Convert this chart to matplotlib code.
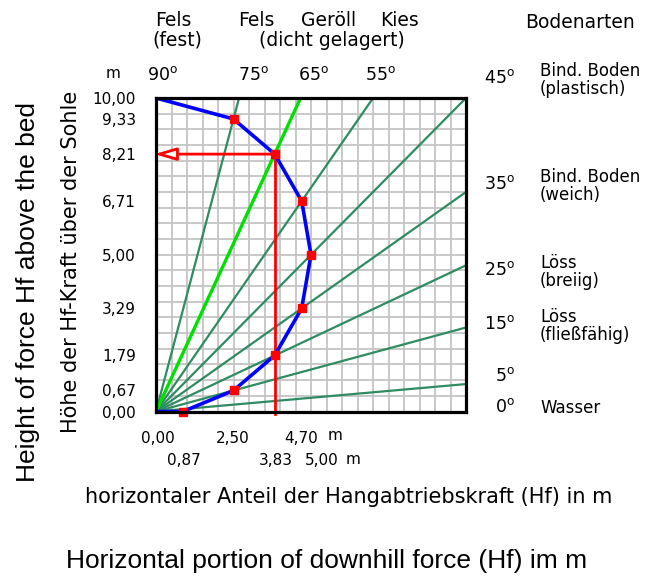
import numpy as np
import matplotlib
matplotlib.use("Agg")
import matplotlib.pyplot as plt

# --- data -------------------------------------------------------------
# resultant curve of the horizontal force component (x in m, height in m)
curve_x = [0.00, 2.50, 3.83, 4.70, 5.00, 4.70, 3.83, 2.50, 0.87, 0.00]
curve_y = [10.00, 9.33, 8.21, 6.71, 5.00, 3.29, 1.79, 0.67, 0.00, 0.00]
# points marked on the curve
mark_x = [2.50, 3.83, 4.70, 5.00, 4.70, 3.83, 2.50, 0.87]
mark_y = [9.33, 8.21, 6.71, 5.00, 3.29, 1.79, 0.67, 0.00]

# friction-angle rays and the highlighted one
ray_angles = [5, 15, 25, 35, 45, 55, 75]
hl_angle = 65
# reading point (horizontal part / height)
read_x = 3.83
read_y = 8.21

y_ticks = [0.00, 0.67, 1.79, 3.29, 5.00, 6.71, 8.21, 9.33, 10.00]
x_ticks_row1 = [0.00, 2.50, 4.70]
x_ticks_row2 = [0.87, 3.83, 5.00]

top_angles = [90, 75, 65, 55]
right_angles = [45, 35, 25, 15, 5, 0]
right_soils = [("Bind. Boden", "(plastisch)"), ("Bind. Boden", "(weich)"),
               ("Löss", "(breiig)"), ("Löss", "(fließfähig)"), None, ("Wasser", None)]

W, H = 646, 576
fig = plt.figure(figsize=(W / 100, H / 100), dpi=100)
fig.patch.set_facecolor("white")

# axes box in pixels: x 156..466, y 98..411.5
ax = fig.add_axes([156 / W, 1 - 411.5 / H, 310 / W, 313.5 / H])
ax.set_xlim(0, 10)
ax.set_ylim(0, 10)

TECH = "DejaVu Sans"
ARIAL = "Liberation Sans"
NUM_FS = 11
WORD_FS = 13.5
SIDE_FS = 12
ANG_FS = 12.5
TITLE_FS = 15


def fmt(v):
    return f"{v:.2f}".replace(".", ",")


def deg(v):
    return f"{v}" + r"$^{\mathregular{o}}$"


def ftxt(x, y, s, **kw):
    kw.setdefault("family", TECH)
    kw.setdefault("ha", "center")
    kw.setdefault("va", "center")
    fig.text(x / W, 1 - y / H, s, **kw)


# grid every 0.5 m
for v in np.arange(0.5, 10, 0.5):
    ax.axvline(v, color="#c4c4c4", lw=1.3, zorder=1)
    ax.axhline(v, color="#c4c4c4", lw=1.3, zorder=1)

# rays from the origin
for a in ray_angles:
    t = np.radians(a)
    ax.plot([0, 20 * np.cos(t)], [0, 20 * np.sin(t)], color="#2e8b62",
            lw=1.6, zorder=2, solid_capstyle="butt")
t = np.radians(hl_angle)
ax.plot([0, 20 * np.cos(t)], [0, 20 * np.sin(t)], color="#00e000",
        lw=2.4, zorder=3, solid_capstyle="butt")

# vertical reading line
ax.plot([read_x, read_x], [read_y, -0.08], color="#ff0000", lw=2.0,
        zorder=4, clip_on=False)

# curve and markers
ax.plot(curve_x, curve_y, color="#0000ff", lw=2.6, zorder=5)
ax.plot(mark_x, mark_y, ls="none", marker="s", ms=6, color="#ff0000",
        mec="#ff0000", zorder=6, clip_on=False)

# arrow to the height axis
ax.annotate("", xy=(-0.05, read_y), xytext=(read_x, read_y),
            arrowprops=dict(arrowstyle="-|>,head_length=1.3,head_width=0.38",
                            mutation_scale=10, ec="#ff0000", fc="white",
                            lw=2.0, shrinkA=0, shrinkB=0),
            zorder=7, annotation_clip=False)

for sp in ax.spines.values():
    sp.set_linewidth(2.3)
    sp.set_color("black")
    sp.set_zorder(8)

ax.set_xticks([])
ax.set_yticks(y_ticks)
ax.set_yticklabels([fmt(v) for v in y_ticks], family=TECH, fontsize=NUM_FS)
ax.tick_params(axis="y", length=0, pad=14.5)

# x labels in two rows
for v in x_ticks_row1:
    ax.annotate(fmt(v), xy=(v, 0), xycoords=("data", "axes fraction"),
                xytext=(2 if v == 0 else -1, -27), textcoords="offset pixels",
                ha="center", va="center", family=TECH, fontsize=NUM_FS,
                annotation_clip=False)
for v in x_ticks_row2:
    ax.annotate(fmt(v), xy=(v, 0), xycoords=("data", "axes fraction"),
                xytext=(11 if v == 5.0 else 1, -49), textcoords="offset pixels",
                ha="center", va="center", family=TECH, fontsize=NUM_FS,
                annotation_clip=False)
ftxt(335, 436, "m", fontsize=NUM_FS)
ftxt(353, 459, "m", fontsize=NUM_FS)
ftxt(113, 73, "m", fontsize=NUM_FS)

# soil types along the top
ftxt(173, 21, "Fels", fontsize=WORD_FS)
ftxt(177, 40, "(fest)", fontsize=WORD_FS)
ftxt(256, 21, "Fels", fontsize=WORD_FS)
ftxt(329, 21, "Geröll", fontsize=WORD_FS)
ftxt(400, 20, "Kies", fontsize=WORD_FS)
ftxt(332, 40, "(dicht gelagert)", fontsize=WORD_FS)
ftxt(580, 22, "Bodenarten", fontsize=WORD_FS)

# angle labels along the top
for a, xc in zip(top_angles, [163, 254, 314, 381]):
    ftxt(xc, 75, deg(a), fontsize=ANG_FS)

# angle labels and soil types on the right
right_y = [78, 184, 270, 324, 376, 407]
for a, yc, soil in zip(right_angles, right_y, right_soils):
    ftxt(515, yc, deg(a), fontsize=ANG_FS, ha="right")
    if soil is None:
        continue
    l1, l2 = soil
    if l2 is None:
        ftxt(540, yc + 1, l1, fontsize=SIDE_FS, ha="left")
    else:
        ftxt(540, yc - 7, l1, fontsize=SIDE_FS, ha="left")
        ftxt(540, yc + 11, l2, fontsize=SIDE_FS, ha="left")

# axis titles
ftxt(71, 262, "Höhe der Hf-Kraft über der Sohle", fontsize=TITLE_FS, rotation=90)
ftxt(349, 497, "horizontaler Anteil der Hangabtriebskraft (Hf) in m",
     fontsize=TITLE_FS)
ftxt(28, 292, "Height of force Hf above the bed", family=ARIAL, fontsize=19,
     rotation=90)
ftxt(327, 561, "Horizontal portion of downhill force (Hf) im m", family=ARIAL,
     fontsize=19)

fig.savefig("out.png", dpi=100, facecolor="white")
